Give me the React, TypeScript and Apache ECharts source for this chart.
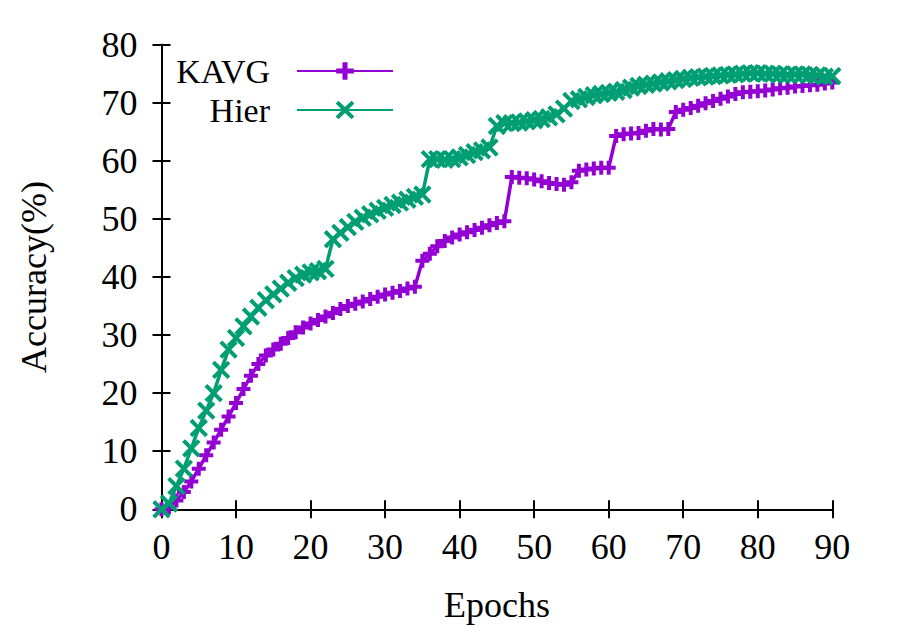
import React, { useEffect, useRef } from "react";
import * as echarts from "echarts";

const epochs = [
  0, 1, 2, 3, 4, 5, 6, 7, 8, 9, 10, 11, 12, 13, 14, 15, 16, 17, 18, 19,
  20, 21, 22, 23, 24, 25, 26, 27, 28, 29, 30, 31, 32, 33, 34, 35, 36, 37, 38, 39,
  40, 41, 42, 43, 44, 45, 46, 47, 48, 49, 50, 51, 52, 53, 54, 55, 56, 57, 58, 59,
  60, 61, 62, 63, 64, 65, 66, 67, 68, 69, 70, 71, 72, 73, 74, 75, 76, 77, 78, 79,
  80, 81, 82, 83, 84, 85, 86, 87, 88, 89, 90,
];

const kavg = [
  0, 0.3, 1.5, 3, 4.8, 7, 9.3, 11.5, 13.7, 16, 18.3, 20.7, 23, 25, 26.5, 27.5, 28.5, 29.5, 30.5, 31.3,
  32, 32.6, 33.2, 33.8, 34.5, 35, 35.4, 35.8, 36.2, 36.6, 37, 37.3, 37.6, 38, 38.3, 42.8, 44, 45.3, 46.2, 46.8,
  47.3, 47.7, 48.1, 48.5, 48.9, 49.3, 49.6, 57.2, 57.1, 57, 56.8, 56.5, 56.2, 56, 55.9, 56.3, 58.3, 58.5, 58.7, 58.8,
  58.8, 64.3, 64.6, 64.7, 64.8, 65.2, 65.5, 65.4, 65.5, 68.4, 68.8, 69.1, 69.5, 69.9, 70.3, 70.7, 71.1, 71.5, 71.8, 71.9,
  72, 72.1, 72.3, 72.5, 72.6, 72.8, 72.9, 73, 73.1, 73.3, 73.5,
];

const hier = [
  0, 1, 4, 7, 10.5, 14, 17, 20, 24, 27.5, 29.5, 31.5, 33.2, 34.7, 36, 37, 38, 39, 39.8, 40.4,
  40.8, 41, 41.4, 46.5, 47.6, 48.6, 49.5, 50.2, 50.8, 51.4, 51.9, 52.4, 52.8, 53.3, 53.8, 54.2, 60.3, 60.3, 60.2, 60.3,
  60.6, 61, 61.5, 61.8, 62.3, 66, 66.5, 66.5, 66.6, 66.8, 67, 67.2, 67.5, 68, 69, 70.3, 70.6, 71, 71.3, 71.5,
  71.7, 71.9, 72.2, 72.6, 72.9, 73.1, 73.3, 73.5, 73.7, 73.9, 74.1, 74.3, 74.4, 74.5, 74.6, 74.7, 74.8, 74.9, 75, 75.1,
  75.1, 75, 75, 74.9, 74.8, 74.9, 74.9, 74.8, 74.7, 74.5, 74.6,
];

const xTicks = [0, 10, 20, 30, 40, 50, 60, 70, 80, 90];
const yTicks = [0, 10, 20, 30, 40, 50, 60, 70, 80];

const PURPLE = "#9400d3";
const GREEN = "#009e73";
const FONT = "'Liberation Serif', 'DejaVu Serif', serif";

const plusPath = "path://M5,0H9V5H14V9H9V14H5V9H0V5H5Z";
const crossPath = "path://M9,0H13V9H22V13H13V22H9V13H0V9H9Z";

export default function App() {
  const ref = useRef<HTMLDivElement>(null);
  useEffect(() => {
    if (!ref.current) return;
    const chart = echarts.init(ref.current, undefined, { renderer: "svg" });
    const axisLine = { show: true, lineStyle: { color: "#000", width: 2 } };
    const axisTick = { show: true, inside: true, length: 9, lineStyle: { color: "#000", width: 2 } };
    const label = { fontSize: 36, color: "#000", fontFamily: FONT };
    const legendBase = {
      right: 506,
      orient: "vertical",
      align: "right",
      itemWidth: 96,
      padding: 0,
      textStyle: { ...label, fontSize: 34, lineHeight: 32, height: 32, padding: [0, 22, 0, 0] },
      selectedMode: false,
    };
    chart.setOption({
      animation: false,
      backgroundColor: "#fff",
      grid: { left: 161.5, right: 67.7, top: 44.7, bottom: 120.7, show: false },
      legend: [
        { ...legendBase, data: [{ name: "KAVG" }], top: 54, itemHeight: 22 },
        { ...legendBase, data: [{ name: "Hier" }], top: 93, itemHeight: 28 },
      ],
      xAxis: [
        {
          type: "value",
          min: xTicks[0],
          max: xTicks[xTicks.length - 1],
          interval: 10,
          position: "bottom",
          axisLine,
          axisTick,
          splitLine: { show: false },
          axisLabel: { ...label, margin: 20 },
          name: "Epochs",
          nameLocation: "middle",
          nameGap: 78,
          nameTextStyle: label,
        },
        {
          type: "value",
          min: xTicks[0],
          max: xTicks[xTicks.length - 1],
          interval: 10,
          position: "top",
          axisLine,
          axisTick,
          splitLine: { show: false },
          axisLabel: { show: false },
        },
      ],
      yAxis: [
        {
          type: "value",
          min: yTicks[0],
          max: yTicks[yTicks.length - 1],
          interval: 10,
          position: "left",
          axisLine,
          axisTick,
          splitLine: { show: false },
          axisLabel: { ...label, margin: 24 },
          name: "Accuracy(%)",
          nameLocation: "middle",
          nameGap: 110,
          nameTextStyle: label,
        },
        {
          type: "value",
          min: yTicks[0],
          max: yTicks[yTicks.length - 1],
          interval: 10,
          position: "right",
          axisLine,
          axisTick,
          splitLine: { show: false },
          axisLabel: { show: false },
        },
      ],
      series: [
        {
          name: "KAVG",
          type: "line",
          data: epochs.map((e, i) => [e, kavg[i]]),
          symbol: plusPath,
          symbolSize: 14,
          showAllSymbol: true,
          lineStyle: { color: PURPLE, width: 3.5 },
          itemStyle: { color: PURPLE },
          z: 2,
        },
        {
          name: "Hier",
          type: "line",
          data: epochs.map((e, i) => [e, hier[i]]),
          symbol: crossPath,
          symbolSize: 22,
          symbolRotate: 45,
          showAllSymbol: true,
          lineStyle: { color: GREEN, width: 3.5 },
          itemStyle: { color: GREEN },
          z: 3,
        },
      ],
    });
    return () => chart.dispose();
  }, []);
  return <div ref={ref} style={{ width: 900, height: 630, position: "absolute", left: 0, top: 0 }} />;
}
